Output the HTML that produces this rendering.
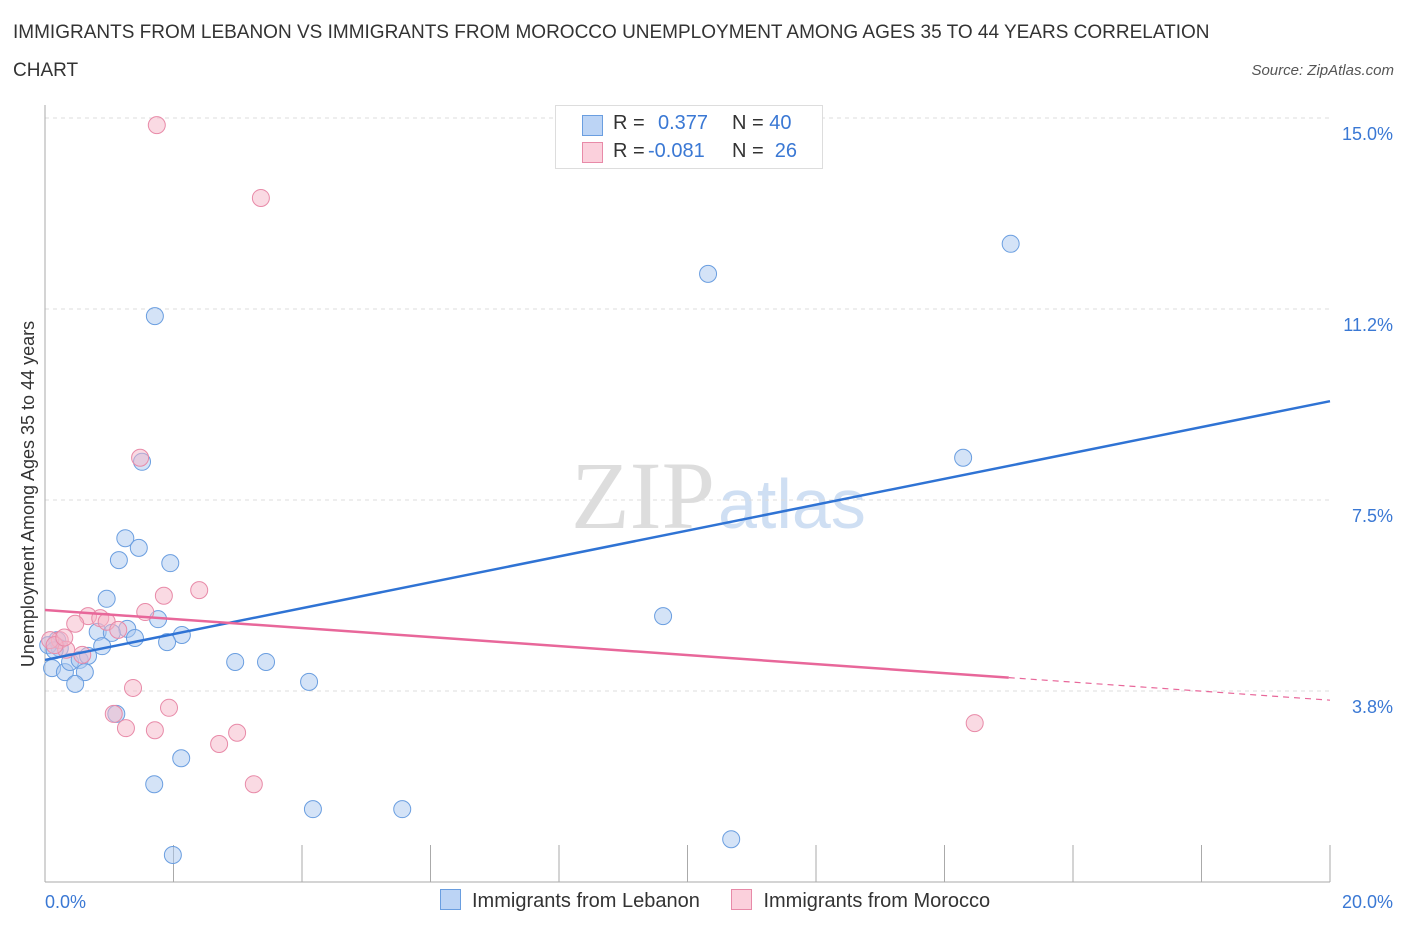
<!DOCTYPE html>
<html><head><meta charset="utf-8"><style>
body{margin:0;background:#fff;font-family:"Liberation Sans",sans-serif;}
#wrap{position:relative;width:1406px;height:930px;overflow:hidden;}
.t{position:absolute;color:#333;}
</style></head><body>
<div id="wrap">
<div class="t" style="left:13px;top:14px;font-size:19px;line-height:38px;color:#333;">IMMIGRANTS FROM LEBANON VS IMMIGRANTS FROM MOROCCO UNEMPLOYMENT AMONG AGES 35 TO 44 YEARS CORRELATION<br>CHART</div>
<div class="t" style="right:12px;top:62px;font-size:15px;font-style:italic;color:#555;">Source: ZipAtlas.com</div>
<svg id="chart" width="1406" height="930" style="position:absolute;left:0;top:0">
<text x="715" y="528" font-family="Liberation Serif" font-size="96" fill="#ddd" text-anchor="end">ZIP</text>
<text x="718" y="528" font-family="Liberation Sans" font-size="70" fill="#cfdff3">atlas</text>
</svg>
<div style="position:absolute;left:555px;top:105px;width:266px;height:62px;border:1px solid #ddd;background:#fff;font-size:20px;color:#333;">
 <div style="position:absolute;left:26px;top:9px;width:19px;height:19px;background:#bcd4f5;border:1px solid #6a9ee0;"></div>
 <div style="position:absolute;left:57px;top:6px;">R =</div>
 <div style="position:absolute;left:102px;top:6px;color:#3a78d4;">0.377</div>
 <div style="position:absolute;left:176px;top:6px;">N = <span style="color:#3a78d4">40</span></div>
 <div style="position:absolute;left:26px;top:36px;width:19px;height:19px;background:#fbd0dc;border:1px solid #e88aa8;"></div>
 <div style="position:absolute;left:57px;top:34px;">R =</div>
 <div style="position:absolute;left:92px;top:34px;color:#3a78d4;">-0.081</div>
 <div style="position:absolute;left:176px;top:34px;">N = &nbsp;<span style="color:#3a78d4">26</span></div>
</div>
<div style="position:absolute;left:440px;top:889px;font-size:20px;color:#333;white-space:nowrap;">
 <span style="display:inline-block;"><span style="display:inline-block;width:19px;height:19px;background:#bcd4f5;border:1px solid #6a9ee0;vertical-align:-3px;margin-right:11px"></span>Immigrants from Lebanon</span>
 <span style="display:inline-block;margin-left:26px"><span style="display:inline-block;width:19px;height:19px;background:#fbd0dc;border:1px solid #e88aa8;vertical-align:-3px;margin-right:11px"></span>Immigrants from Morocco</span>
</div>
</div>
<script>
const xTickLabels=["0.0%","20.0%"];
const yTickValues=[3.75,7.5,11.25,15];
const yTickLabels=["3.8%","7.5%","11.2%","15.0%"];
const lebX=[1.71,10.32,15.03,14.29,1.51,1.25,1.46,1.15,1.95,0.96,1.76,9.62,0.82,1.28,1.04,1.40,2.13,1.90,0.89,0.19,0.11,0.31,0.39,0.54,0.67,0.62,0.47,0.23,2.96,3.44,4.11,1.11,2.12,1.70,4.17,5.56,10.68,1.99,0.05,0.15];
const lebY=[11.11,11.94,12.53,8.33,8.25,6.75,6.56,6.32,6.26,5.56,5.16,5.22,4.91,4.97,4.89,4.79,4.85,4.71,4.63,4.75,4.20,4.12,4.32,4.36,4.44,4.12,3.89,4.59,4.32,4.32,3.93,3.30,2.43,1.92,1.43,1.43,0.84,0.53,4.65,4.55];
const morX=[1.74,3.36,1.48,2.40,1.85,1.56,0.67,0.86,0.96,0.47,1.14,0.23,0.08,0.33,0.58,1.37,1.93,1.07,1.26,1.71,2.99,2.71,3.25,14.47,0.15,0.30];
const morY=[14.86,13.43,8.33,5.73,5.62,5.30,5.22,5.18,5.11,5.07,4.95,4.75,4.75,4.56,4.46,3.81,3.42,3.30,3.02,2.98,2.93,2.71,1.92,3.12,4.65,4.80];
const lebTrend=[4.36,9.44];
const morTrend=[5.34,3.57];
const morSolidEnd=15.0;
const X0=45,X1=1330,YB=882,PX=(X1-X0)/20,PY=191/3.75;
const xs=v=>X0+v*PX, ys=v=>YB-v*PY;
const svg=document.getElementById('chart');
const NS='http://www.w3.org/2000/svg';
function mk(t,a){const e=document.createElementNS(NS,t);for(const k in a)e.setAttribute(k,a[k]);svg.appendChild(e);return e;}
yTickValues.forEach((v,i)=>{
 const g=mk('line',{x1:X0,x2:X1,y1:ys(v),y2:ys(v),stroke:'#ddd','stroke-dasharray':'4,4'});
 
 
 const t=mk('text',{x:1393,y:ys(v)+22,'text-anchor':'end','font-size':18,fill:'#3a78d4','font-family':'Liberation Sans'});
 t.textContent=yTickLabels[i];
 
 
});
const ax=mk('line',{x1:X0,x2:X0,y1:105,y2:YB,stroke:'#aaa'});


const bx=mk('line',{x1:X0,x2:X1,y1:YB,y2:YB,stroke:'#aaa'});


for(let i=0;i<=10;i++){
 const tk=mk('line',{x1:xs(i*2),x2:xs(i*2),y1:845,y2:YB,stroke:'#aaa'});
 
 
}
[[xTickLabels[0],45,'start'],[xTickLabels[1],1393,'end']].forEach(a=>{
 const t=mk('text',{x:a[1],y:908,'text-anchor':a[2],'font-size':18,fill:'#3a78d4','font-family':'Liberation Sans'});
 t.textContent=a[0];
 
 
});
const yt=mk('text',{x:0,y:0,transform:'translate(34,494) rotate(-90)','text-anchor':'middle','font-size':18,fill:'#333','font-family':'Liberation Sans'});
yt.textContent='Unemployment Among Ages 35 to 44 years';


lebX.forEach((x,i)=>{
 const c=mk('circle',{cx:xs(x),cy:ys(lebY[i]),r:8.5,fill:'rgba(169,200,240,0.5)',stroke:'#6a9ee0','stroke-width':1});
 
 
});
morX.forEach((x,i)=>{
 const c=mk('circle',{cx:xs(x),cy:ys(morY[i]),r:8.5,fill:'rgba(245,181,200,0.5)',stroke:'#e88aa8','stroke-width':1});
 
 
});
const l1=mk('line',{x1:xs(0),y1:ys(lebTrend[0]),x2:xs(20),y2:ys(lebTrend[1]),stroke:'#2f73d4','stroke-width':2.5});


const mAt=v=>morTrend[0]+(morTrend[1]-morTrend[0])*v/20;
const l2=mk('line',{x1:xs(0),y1:ys(morTrend[0]),x2:xs(morSolidEnd),y2:ys(mAt(morSolidEnd)),stroke:'#e8679a','stroke-width':2.5});


const l3=mk('line',{x1:xs(morSolidEnd),y1:ys(mAt(morSolidEnd)),x2:xs(20),y2:ys(morTrend[1]),stroke:'#e8679a','stroke-width':1.2,'stroke-dasharray':'6,5'});


</script>
</body></html>
